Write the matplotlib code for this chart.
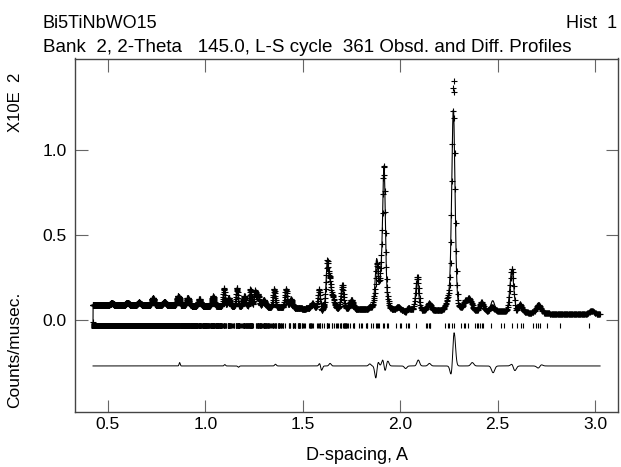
import numpy as np
import matplotlib
matplotlib.use("Agg")
import matplotlib.pyplot as plt

plt.rcParams['font.family'] = ['Liberation Sans', 'DejaVu Sans']

# d-spacing range of the bank (channel grid is geometric in TOF)
d_first, d_last, n_chan = 0.4235, 3.026, 1970

# background level read at anchor d-spacings (counts/musec x100)
bg_d = [0.42, 0.60, 0.80, 1.00, 1.20, 1.40, 1.50, 1.70, 1.80, 2.00, 2.20, 2.50, 2.80, 3.05]
bg_val = [0.088, 0.086, 0.085, 0.082, 0.078, 0.072, 0.066, 0.064, 0.060, 0.052, 0.050, 0.046, 0.036, 0.034]

# calculated peaks: position, height above background, sigma
pk_d = [0.52, 0.60, 0.66, 0.731, 0.79, 0.86, 0.91, 0.97, 1.04, 1.096, 1.12, 1.163, 1.20,
        1.232, 1.255, 1.27, 1.30, 1.353, 1.414, 1.44, 1.55, 1.584, 1.626, 1.64, 1.655,
        1.703, 1.75, 1.87, 1.880, 1.90, 1.917, 1.99, 2.04, 2.087, 2.148, 2.246, 2.273,
        2.333, 2.354, 2.418, 2.475, 2.573, 2.615, 2.709, 2.983]
pk_h = [0.012, 0.015, 0.018, 0.045, 0.02, 0.055, 0.048, 0.04, 0.058, 0.10, 0.05, 0.11, 0.06,
        0.10, 0.09, 0.07, 0.04, 0.105, 0.11, 0.05, 0.03, 0.10, 0.27, 0.13, 0.06,
        0.14, 0.055, 0.04, 0.27, 0.14, 0.84, 0.02, 0.015, 0.175, 0.03, 0.05, 1.19,
        0.05, 0.07, 0.055, 0.065, 0.25, 0.045, 0.06, 0.02]
pk_w = [0.008, 0.008, 0.008, 0.006, 0.008, 0.006, 0.006, 0.006, 0.006, 0.004, 0.006, 0.0045, 0.006,
        0.0045, 0.0048, 0.006, 0.008, 0.005, 0.0054, 0.007, 0.008, 0.006, 0.0062, 0.006, 0.007,
        0.0065, 0.008, 0.008, 0.0071, 0.006, 0.0073, 0.010, 0.012, 0.008, 0.012, 0.010, 0.0086,
        0.009, 0.009, 0.010, 0.010, 0.0098, 0.010, 0.011, 0.012]

# residual (obs - calc) features: position, amplitude
res_d = [0.868, 1.10, 1.17, 1.36, 1.589, 1.595, 1.64, 1.844, 1.876, 1.884, 1.912, 1.921, 1.936,
         2.028, 2.093, 2.15, 2.265, 2.276, 2.37, 2.477, 2.578, 2.586, 2.712, 2.72]
res_a = [0.02, 0.008, -0.008, 0.01, 0.025, -0.035, 0.015, 0.012, -0.085, 0.04, 0.045, -0.04, 0.03,
         -0.015, 0.035, 0.015, -0.085, 0.22, 0.02, -0.04, 0.025, -0.04, -0.02, 0.015]

first_val = -0.012   # first (bad) channel
diff_offset = -0.27

# lattice of Bi5TiNbWO15 (I2cm) for reflection markers
cell_a, cell_b, cell_c = 5.44, 5.41, 41.6

d = np.geomspace(d_first, d_last, n_chan)
calc = np.interp(d, bg_d, bg_val)
for p, h, w in zip(pk_d, pk_h, pk_w):
    g = np.exp(-0.5 * ((d - p) / w) ** 2)
    l = 1.0 / (1.0 + ((d - p) / (1.2 * w)) ** 2)
    calc += h * (0.75 * g + 0.25 * l)
resid = np.zeros_like(d)
for p, a in zip(res_d, res_a):
    resid += a * np.exp(-0.5 * ((d - p) / (0.0032 * p)) ** 2)
obs = calc + resid
calc[0] = first_val
obs[0] = first_val
diff = obs - calc + diff_offset

refl = []
for h in range(0, 14):
    for k in range(0, 14):
        for l in range(0, 100):
            if (h + k + l) % 2:
                continue
            if k == 0 and (h % 2 or l % 2):
                continue
            if h == k == l == 0:
                continue
            inv = h**2 / cell_a**2 + k**2 / cell_b**2 + l**2 / cell_c**2
            dd = 1 / np.sqrt(inv)
            if d_first - 0.005 < dd < d_last:
                refl.append(dd)
refl = np.unique(np.round(refl, 4))

fig = plt.figure(figsize=(6.21, 4.67), dpi=100)
ax = fig.add_axes([75 / 621, 1 - 411.7 / 467, 543 / 621, 353.2 / 467])

ax.plot(d, obs, ls='none', marker='+', ms=5, mew=0.8, color='black')
ax.plot(d, calc, color='black', lw=0.8)
ax.plot(d, diff, color='black', lw=0.7)
ax.vlines(refl, -0.047, -0.018, color='black', lw=0.8)

ax.set_xlim(0.331, 3.118)
ax.set_ylim(-0.539, 1.538)
ax.set_xticks([0.5, 1.0, 1.5, 2.0, 2.5, 3.0])
ax.set_yticks([0.0, 0.5, 1.0])
ax.tick_params(direction='in', length=9, width=0.8, color='#666', labelsize=12.5,
               top=True, right=True, labelcolor='black')
ax.tick_params(axis='x', pad=4)
ax.tick_params(axis='y', pad=6)
for s in ax.spines.values():
    s.set_color('#444')
    s.set_linewidth(1.0)

fig.text(357 / 621, 1 - 455 / 467, "D-spacing, A", ha='center', va='center', fontsize=13)
fig.text(15 / 621, 1 - 102 / 467, "X10E  2", rotation=90, ha='center', va='center', fontsize=12)
fig.text(15 / 621, 1 - 350 / 467, "Counts/musec.", rotation=90, ha='center', va='center', fontsize=12.5)
fig.text(43 / 621, 1 - 24 / 467, "Bi5TiNbWO15", ha='left', va='center', fontsize=13)
fig.text(617 / 621, 1 - 24 / 467, "Hist  1", ha='right', va='center', fontsize=13)
fig.text(43 / 621, 1 - 47 / 467, "Bank  2, 2-Theta   145.0, L-S cycle  361 Obsd. and Diff. Profiles",
         ha='left', va='center', fontsize=13.5)

fig.savefig("out.png", dpi=100)
